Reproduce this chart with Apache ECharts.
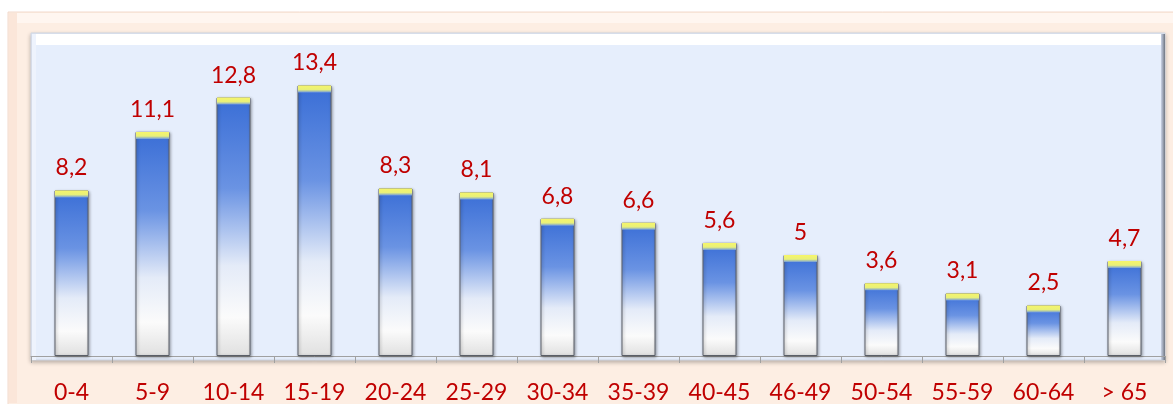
<!DOCTYPE html>
<html><head><meta charset="utf-8">
<script src="https://cdn.jsdelivr.net/npm/echarts@6/dist/echarts.min.js"></script>
<style>html,body{margin:0;padding:0;background:#fff}#c{width:1173px;height:404px}</style>
</head><body><div id="c"></div>
<script>
const categories = ['0-4','5-9','10-14','15-19','20-24','25-29','30-34','35-39','40-45','46-49','50-54','55-59','60-64','> 65'];
const values = [8.2,11.1,12.8,13.4,8.3,8.1,6.8,6.6,5.6,5,3.6,3.1,2.5,4.7];
const valueLabels = ['8,2','11,1','12,8','13,4','8,3','8,1','6,8','6,6','5,6','5','3,6','3,1','2,5','4,7'];

const chart = echarts.init(document.getElementById('c'));
const G = echarts.graphic;
chart.setOption({
  animation: false,
  graphic: [
    {type:'rect', z:-10, shape:{x:8,y:12,width:1170,height:400}, style:{fill:'#fdeee3', stroke:'#f2d9cc', lineWidth:1}},
    {type:'rect', z:-9, shape:{x:9,y:13,width:1170,height:10}, style:{fill:'#fff6f0'}},
    {type:'rect', z:-9, shape:{x:9,y:13,width:8,height:390}, style:{fill:'#fbe6d9'}},
    {type:'rect', z:-8, shape:{x:31,y:33,width:1134,height:327}, style:{fill:'#e6eefc', stroke:'#d0d6e2', lineWidth:1, shadowColor:'rgba(0,0,0,0.25)', shadowBlur:4, shadowOffsetY:2}},
    {type:'rect', z:-7, shape:{x:32,y:34,width:1132,height:11}, style:{fill:'#ffffff'}},
    {type:'rect', z:-7, shape:{x:1161,y:34,width:4,height:326}, style:{fill:new G.LinearGradient(0,0,1,0,[{offset:0,color:'#c9d2e6'},{offset:1,color:'#6f7682'}])}},
    {type:'rect', z:-7, shape:{x:32,y:34,width:4,height:326}, style:{fill:'#eef3fd'}}
  ],
  grid: {left:31, right:8, top:33, bottom:42},
  xAxis: {
    type:'category', data:categories,
    axisLine:{show:true, lineStyle:{color:'#a0a0a0', width:1}},
    axisTick:{show:true, length:7, lineStyle:{color:'#a0a0a0'}},
    axisLabel:{color:'#c00000', fontSize:23, fontFamily:'Lato, "Open Sans", sans-serif', margin:25, interval:0}
  },
  yAxis: {type:'value', min:0, max:16, show:false, splitLine:{show:false}},
  series: [
    {
      type:'bar', data:values, barWidth:34, z:2,
      itemStyle:{
        color:new G.LinearGradient(0,0,0,1,[
          {offset:0,color:'#3a6ed6'},
          {offset:0.35,color:'#6a93e3'},
          {offset:0.65,color:'#e4ebf8'},
          {offset:0.85,color:'#fbfbfb'},
          {offset:1,color:'#e0e0e0'}
        ]),
        borderColor:'#5a5f68', borderWidth:1,
        shadowColor:'rgba(0,0,0,0.35)', shadowBlur:3, shadowOffsetX:1, shadowOffsetY:1
      },
      label:{
        show:true, position:'top', distance:11, color:'#c00000', fontSize:23,
        fontFamily:'Lato, "Open Sans", sans-serif',
        formatter:p=>valueLabels[p.dataIndex]
      }
    },
    {
      type:'pictorialBar', data:values, symbol:'rect', symbolSize:[33,7], symbolPosition:'end',
      symbolOffset:[0,0], z:3, silent:true,
      itemStyle:{color:new G.LinearGradient(0,0,0,1,[{offset:0,color:'#f6f56a'},{offset:0.6,color:'#e8f07a'},{offset:1,color:'#6f98e0'}])}
    }
  ]
});
</script></body></html>
